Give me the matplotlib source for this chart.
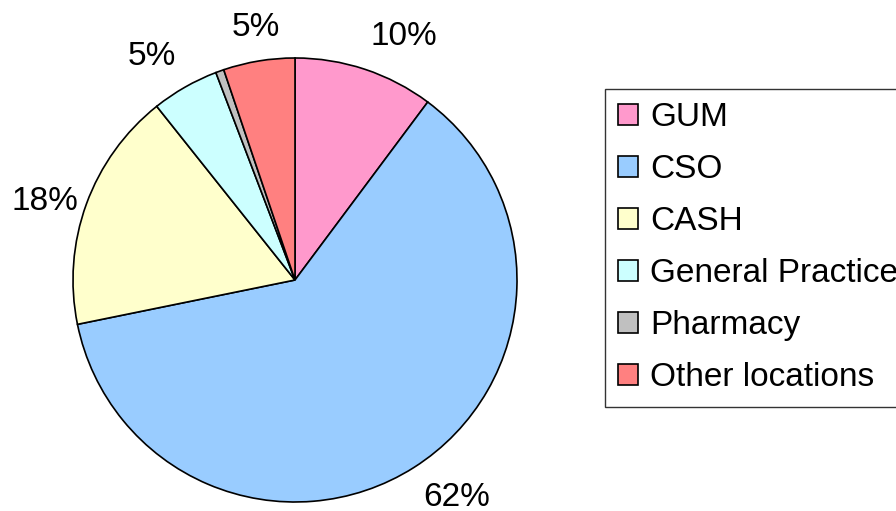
import numpy as np
import matplotlib
matplotlib.use("Agg")
import matplotlib.pyplot as plt

plt.rcParams['font.family'] = ['Liberation Sans', 'DejaVu Sans']

# Share of tests by location (percent)
locations = ["GUM", "CSO", "CASH", "General Practice", "Pharmacy", "Other locations"]
shares = [10.2, 61.6, 17.5, 4.9, 0.6, 5.2]
pct_labels = ["10%", "62%", "18%", "5%", "", "5%"]
colors = ["#FF99CC", "#99CCFF", "#FFFFCC", "#CCFFFF", "#C0C0C0", "#FF8080"]

fig = plt.figure(figsize=(8.96, 5.11), dpi=100)
ax = fig.add_axes([73 / 896, 9 / 511, 444 / 896, 444 / 511])

wedges, _ = ax.pie(shares, colors=colors, startangle=90, counterclock=False,
                   wedgeprops=dict(edgecolor="black", linewidth=1.2))
ax.set_xlim(-1, 1)
ax.set_ylim(-1, 1)
ax.set_aspect("equal")
ax.axis("off")

# percentage labels just outside each slice
for w, lab in zip(wedges, pct_labels):
    if not lab:
        continue
    mid = np.deg2rad((w.theta1 + w.theta2) / 2)
    x, y = np.cos(mid), np.sin(mid)
    ha = "center" if abs(x) < 0.3 else ("left" if x > 0 else "right")
    va = "center" if abs(y) < 0.5 else ("bottom" if y > 0 else "top")
    r = 1.08 if abs(y) > 0.5 else 1.04
    ax.text(r * x, r * y, lab, ha=ha, va=va, fontsize=24)

leg = fig.legend(wedges, locations, loc="upper left",
                 bbox_to_anchor=(605 / 896, 1 - 89 / 511), fontsize=24,
                 frameon=True, fancybox=False, borderaxespad=0,
                 handlelength=0.6, handleheight=0.6, handletextpad=0.35,
                 labelspacing=0.63, borderpad=0.4)
leg.get_frame().set_edgecolor("black")
leg.get_frame().set_linewidth(1.0)

fig.savefig("out.png", dpi=100)
